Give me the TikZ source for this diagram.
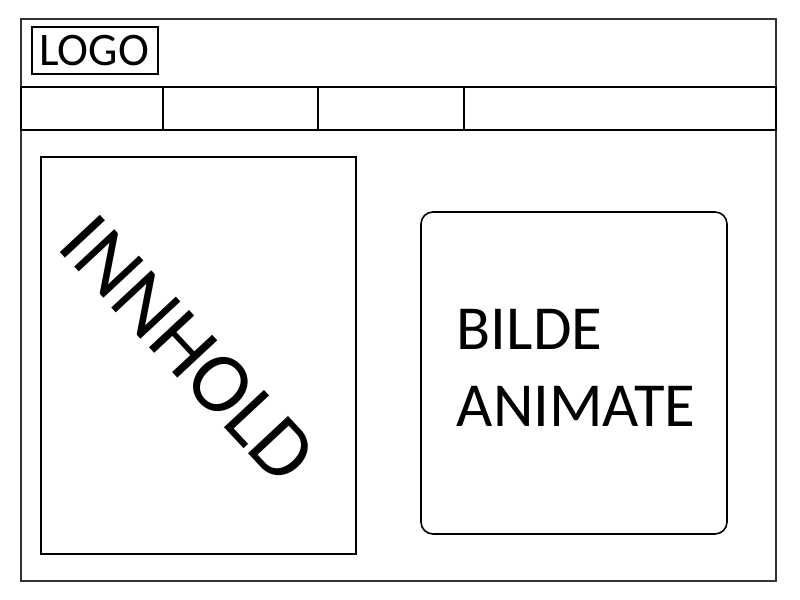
\documentclass[tikz,border=0pt]{standalone}
\usepackage{fontspec}
\setmainfont{Carlito}
\begin{document}
\begin{tikzpicture}
[x=0.75pt, y=-0.75pt, line width=1.2pt]
\tikzstyle{box}=[draw, black, line width=1.2pt]
\tikzstyle{label}=[inner sep=0pt]
\useasboundingbox (0,0) rectangle (800,600);

% page frame and top bars
\draw [box, black!80] (21,19) rectangle (776,581);
\draw [box] (21,87) rectangle (776,130);
\foreach \x in {163,318,464}
	\draw [box] (\x,87) -- (\x,130);

% logo
\draw [box] (32,27) rectangle (158,74);
\node[label]	(logo)	at (94,51)	{\fontsize{35pt}{40pt}\selectfont LOGO};

% content
\draw [box] (41,157) rectangle (356,554);
\node[label, rotate=-47]	(innhold)	at (188,349)	{\fontsize{64pt}{70pt}\selectfont INNHOLD};

% picture
\draw [box, rounded corners=9pt] (421,212) rectangle (727,534);
\node[label, anchor=base west]	(bilde)	at (456,349)	{\fontsize{47pt}{56pt}\selectfont BILDE};
\node[label, anchor=base west]	(animate)	at (456,426)	{\fontsize{47pt}{56pt}\selectfont ANIMATE};

\end{tikzpicture}
\end{document}
